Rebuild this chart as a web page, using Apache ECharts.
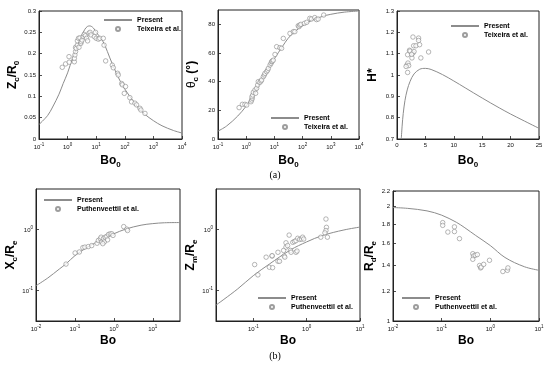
<!DOCTYPE html>
<html><head><meta charset="utf-8">
<script src="https://cdn.jsdelivr.net/npm/echarts@6/dist/echarts.min.js"></script>
<style>html,body{margin:0;padding:0;background:#fff}#c{width:550px;height:367px}</style>
</head><body><div id="c"></div>
<script>
// ---------- (a) left: Zc/R0 vs Bo0 ----------
const a1CurveBo = [0.1,0.2,0.3,0.5,0.7,1,1.5,2,3,4,5,6,8,10,15,20,30,50,70,100,200,300,500,1000,2000,5000,10000];
const a1CurveZ  = [0.034,0.055,0.075,0.105,0.13,0.155,0.19,0.21,0.24,0.257,0.264,0.265,0.26,0.25,0.235,0.22,0.19,0.155,0.135,0.117,0.088,0.073,0.058,0.043,0.031,0.02,0.014];
const a1DataBo = [0.65,0.85,1.12,1.14,1.72,1.72,1.8,1.9,1.9,2.0,2.2,2.2,2.4,2.5,2.7,2.9,3.0,3.2,3.5,3.8,4.2,4.6,5.0,5.6,6.1,6.6,8.6,9.5,10,11.9,13.4,17.7,18.8,21.4,36.6,39.7,56,59,78,82,96,106,150,172,226,258,338,366,508];
const a1DataZ  = [0.168,0.176,0.193,0.18,0.181,0.189,0.197,0.205,0.215,0.212,0.22,0.23,0.236,0.215,0.237,0.224,0.228,0.232,0.24,0.245,0.242,0.236,0.23,0.248,0.25,0.244,0.24,0.25,0.236,0.234,0.236,0.236,0.22,0.183,0.173,0.167,0.154,0.15,0.13,0.127,0.107,0.123,0.097,0.087,0.084,0.08,0.072,0.068,0.06];

// ---------- (a) middle: theta_c vs Bo0 ----------
const a2CurveBo = [0.1,0.2,0.5,1,1.5,2,3,4,5,7,10,20,30,50,100,200,500,1000,3000,10000];
const a2CurveT  = [5.5,9,16,23,28.5,32.5,38.5,43,46,51,56,65,70,74.5,79,82.5,85.5,87,88.5,89.3];
const a2DataBo = [0.56,0.73,0.9,1.04,1.48,1.56,1.64,1.6,1.7,1.79,2.05,2.35,2.16,2.55,2.68,3.07,3.36,3.53,4.06,4.4,4.64,5.3,5.77,6.1,7.0,7.6,8.0,8.45,9.16,10.5,12,15.7,18,20.7,35.7,47,53,70,75,80,87,116,140,180,205,270,310,355,560];
const a2DataT  = [21.9,24.2,24.2,23.7,26,27.2,28.4,29.5,30.7,32.6,34.2,35.4,31.9,37.7,40,39.5,40.5,41.2,43.5,44.7,45.8,47,48,49.3,51.6,52.8,54,54.4,55,59,64.4,63.7,63.3,70.2,73.7,74.9,74.9,79,78.4,79.5,80,80.7,81.4,84.2,83.7,84.7,83.3,83.7,86.5];

// ---------- (a) right: H* vs Bo0 ----------
const a3CurveBo = [0.75,0.9,1.1,1.4,1.8,2.3,3,4,5,6,8,10,12,15,18,20,22,25];
const a3CurveH  = [0.70,0.76,0.82,0.88,0.93,0.97,1.005,1.027,1.031,1.026,1.002,0.972,0.94,0.892,0.846,0.817,0.79,0.75];
const a3DataBo = [2.81,1.87,2.2,2.93,3.34,2.81,2.63,1.76,1.93,2.05,1.87,3.8,3.8,3.98,4.2,5.56,2.3,1.6,3.0,2.58];
const a3DataH  = [1.178,1.095,1.116,1.137,1.137,1.103,1.08,1.047,1.056,1.044,1.012,1.173,1.162,1.142,1.08,1.108,1.112,1.04,1.11,1.097];

// ---------- (b) left: Xc/Re vs Bo ----------
const b1CurveBo = [0.01,0.02,0.04,0.06,0.1,0.2,0.5,1,2,5,10,20,50];
const b1CurveX  = [0.12,0.16,0.225,0.275,0.37,0.5,0.68,0.84,1.0,1.16,1.23,1.27,1.28];
const b1DataBo = [0.059,0.101,0.13,0.16,0.18,0.22,0.27,0.37,0.4,0.45,0.49,0.47,0.54,0.6,0.57,0.52,0.66,0.73,0.81,0.89,0.69,0.95,1.79,2.15,2.25];
const b1DataX  = [0.27,0.41,0.425,0.5,0.51,0.52,0.54,0.59,0.655,0.70,0.62,0.74,0.70,0.74,0.62,0.58,0.76,0.82,0.84,0.84,0.67,0.79,1.1,1.0,0.95];

// ---------- (b) middle: Zm/Re vs Bo ----------
const b2CurveBo = [0.02,0.05,0.1,0.2,0.5,1,2,5,10];
const b2CurveZ  = [0.058,0.105,0.175,0.27,0.46,0.62,0.79,0.97,1.08];
const b2DataBo = [0.106,0.122,0.174,0.225,0.225,0.2,0.23,0.29,0.29,0.31,0.38,0.39,0.37,0.41,0.47,0.41,0.44,0.5,0.51,0.55,0.59,0.63,0.68,0.74,0.8,0.84,0.88,0.63,0.66,1.84,2.3,2.35,2.3,2.2,2.45];
const b2DataZ  = [0.265,0.18,0.35,0.365,0.37,0.24,0.236,0.42,0.3,0.3,0.365,0.35,0.45,0.51,0.8,0.6,0.54,0.45,0.42,0.61,0.63,0.65,0.71,0.68,0.69,0.74,0.69,0.42,0.44,0.74,1.46,1.07,0.95,0.87,0.74];

// ---------- (b) right: Rd/Re vs Bo ----------
const b3CurveBo = [0.01,0.02,0.05,0.1,0.2,0.3,0.5,1,2,5,10];
const b3CurveR  = [1.99,1.98,1.95,1.9,1.82,1.76,1.68,1.58,1.47,1.39,1.36];
const b3DataBo = [0.105,0.105,0.134,0.183,0.183,0.232,0.436,0.45,0.436,0.49,0.54,0.6,0.63,0.65,0.73,0.96,1.81,2.24,2.3];
const b3DataR  = [1.816,1.786,1.715,1.77,1.72,1.648,1.504,1.483,1.454,1.49,1.496,1.40,1.38,1.387,1.41,1.445,1.35,1.36,1.38];

// tick values
const decTicksA = [0.1,1,10,100,1000,10000];
const decTicksB1 = [0.01,0.1,1,10];
const decTicksB2 = [0.1,1,10];
const decTicksB3 = [0.01,0.1,1,10];
const yDecTicks = [0.1,1];
const rTicks = [1,1.2,1.4,1.6,1.8,2,2.2];

const FF = 'Liberation Sans, Arial, sans-serif';
const zip = (a,b) => a.map((x,i)=>[x,b[i]]);

const LOGRICH = {
  m:{fontSize:6, lineHeight:8, verticalAlign:'bottom', color:'#111', fontFamily:FF},
  e:{fontSize:4.5, lineHeight:5, verticalAlign:'top', color:'#111', fontFamily:FF}
};
function logFmt(v){ const e=Math.log10(v); const r=Math.round(e); if(Math.abs(e-r)>1e-6) return ''; return '{m|10}{e|'+r+'}'; }
const NAMERICH = {
  b:{fontSize:12, fontWeight:'bold', lineHeight:16, fontFamily:FF, color:'#000'},
  s:{fontSize:8, fontWeight:'bold', lineHeight:8, verticalAlign:'bottom', fontFamily:FF, color:'#000'},
  g:{fontSize:12, lineHeight:16, fontFamily:FF, color:'#000'}
};

function base(gi, name, gap){
  return {gridIndex:gi, name:name, nameLocation:'middle', nameGap:gap,
    nameTextStyle:{rich:NAMERICH},
    axisLine:{show:true,onZero:false,lineStyle:{color:'#222',width:1}},
    axisTick:{show:true,inside:true,length:3,lineStyle:{color:'#222',width:0.8}},
    splitLine:{show:false},
    axisLabel:{fontSize:6,color:'#111',fontFamily:FF,margin:3}};
}
function logAx(gi, min, max, ticks, name, gap){
  const a = base(gi, name, gap);
  a.type='log'; a.logBase=10; a.min=min; a.max=max;
  a.axisLabel = Object.assign(a.axisLabel, {formatter:logFmt, rich:LOGRICH, customValues:ticks});
  a.axisTick.customValues = ticks;
  return a;
}
function linAx(gi, min, max, interval, name, gap){
  const a = base(gi, name, gap);
  a.type='value'; a.min=min; a.max=max; a.interval=interval;
  return a;
}

const grids = [
  {left:39, top:11, width:143, height:128},
  {left:218, top:10, width:141, height:129},
  {left:397, top:11, width:142, height:128},
  {left:36, top:189, width:144, height:132},
  {left:216, top:189, width:144, height:132},
  {left:393, top:191, width:146, height:130}
].map(g=>Object.assign(g,{show:true,borderColor:'#222',borderWidth:1}));

const xAxes = [
  logAx(0,0.1,10000,decTicksA,'{b|Bo}{s|0}',14),
  logAx(1,0.1,10000,decTicksA,'{b|Bo}{s|0}',14),
  linAx(2,0,25,5,'{b|Bo}{s|0}',14),
  logAx(3,0.01,50,decTicksB1,'{b|Bo}',12),
  logAx(4,0.02,10,decTicksB2,'{b|Bo}',12),
  logAx(5,0.01,10,decTicksB3,'{b|Bo}',12)
];
const y0 = linAx(0,0,0.3,0.05,'{b|Z}{s|c}{b|/R}{s|0}',18);
const y1 = linAx(1,0,90,20,'{g|θ}{s|c}{b| (°)}',18); y1.axisLabel.showMaxLabel=false;
const y2 = linAx(2,0.7,1.3,0.1,'{b|H*}',16);
const y3 = logAx(3,0.032,4.5,yDecTicks,'{b|X}{s|c}{b|/R}{s|e}',16);
const y4 = logAx(4,0.032,4.5,yDecTicks,'{b|Z}{s|m}{b|/R}{s|e}',16);
const y5 = logAx(5,1,2.2,rTicks,'{b|R}{s|d}{b|/R}{s|e}',15);
y5.axisLabel.formatter = v => String(+(+v).toFixed(1));
y5.axisLabel.rich = undefined;
const yAxes = [y0,y1,y2,y3,y4,y5];

const curves = [[a1CurveBo,a1CurveZ],[a2CurveBo,a2CurveT],[a3CurveBo,a3CurveH],[b1CurveBo,b1CurveX],[b2CurveBo,b2CurveZ],[b3CurveBo,b3CurveR]];
const pts = [[a1DataBo,a1DataZ],[a2DataBo,a2DataT],[a3DataBo,a3DataH],[b1DataBo,b1DataX],[b2DataBo,b2DataZ],[b3DataBo,b3DataR]];
const expNames = ['Teixeira et al.','Teixeira et al.','Teixeira et al.','Puthenveettil et al.','Puthenveettil et al.','Puthenveettil et al.'];

const series = [];
curves.forEach((c,i)=>{
  series.push({type:'line', name:'Present', xAxisIndex:i, yAxisIndex:i, data:zip(c[0],c[1]),
    symbol:'none', showSymbol:false, smooth:0.35, silent:true, z:2,
    lineStyle:{color:'#8c8c8c', width:1}, itemStyle:{color:'#8c8c8c'}});
  series.push({type:'scatter', name:expNames[i], xAxisIndex:i, yAxisIndex:i, data:zip(pts[i][0],pts[i][1]),
    symbol:'circle', symbolSize:4.5, silent:true, z:3,
    itemStyle:{color:'rgba(255,255,255,0.9)', borderColor:'#858585', borderWidth:0.75}});
});

const legPos = [[103,16,'Teixeira et al.'],[270,114,'Teixeira et al.'],[450,22,'Teixeira et al.'],[43,196,'Puthenveettil et al.'],[257,294,'Puthenveettil et al.'],[401,294,'Puthenveettil et al.']];
const legends = legPos.map(p=>({left:p[0], top:p[1], orient:'vertical', padding:0, itemGap:1,
  itemWidth:28, itemHeight:4, selectedMode:false,
  data:[{name:'Present', itemStyle:{color:'rgba(0,0,0,0)', borderColor:'rgba(0,0,0,0)', borderWidth:0, opacity:0}}, p[2]],
  textStyle:{fontSize:7, fontWeight:'bold', color:'#000', fontFamily:FF, lineHeight:8}}));

const option = {
  animation:false, backgroundColor:'#fff',
  title:[
    {text:'(a)', left:'center', top:170, padding:0, textStyle:{fontFamily:'Liberation Serif, Times New Roman, serif', fontSize:10, fontWeight:'normal', color:'#000'}},
    {text:'(b)', left:'center', top:351, padding:0, textStyle:{fontFamily:'Liberation Serif, Times New Roman, serif', fontSize:10, fontWeight:'normal', color:'#000'}}
  ],
  grid:grids, xAxis:xAxes, yAxis:yAxes, legend:legends, series:series
};
const chart = echarts.init(document.getElementById('c'), null, {renderer:'canvas'});
chart.setOption(option);
</script></body></html>
